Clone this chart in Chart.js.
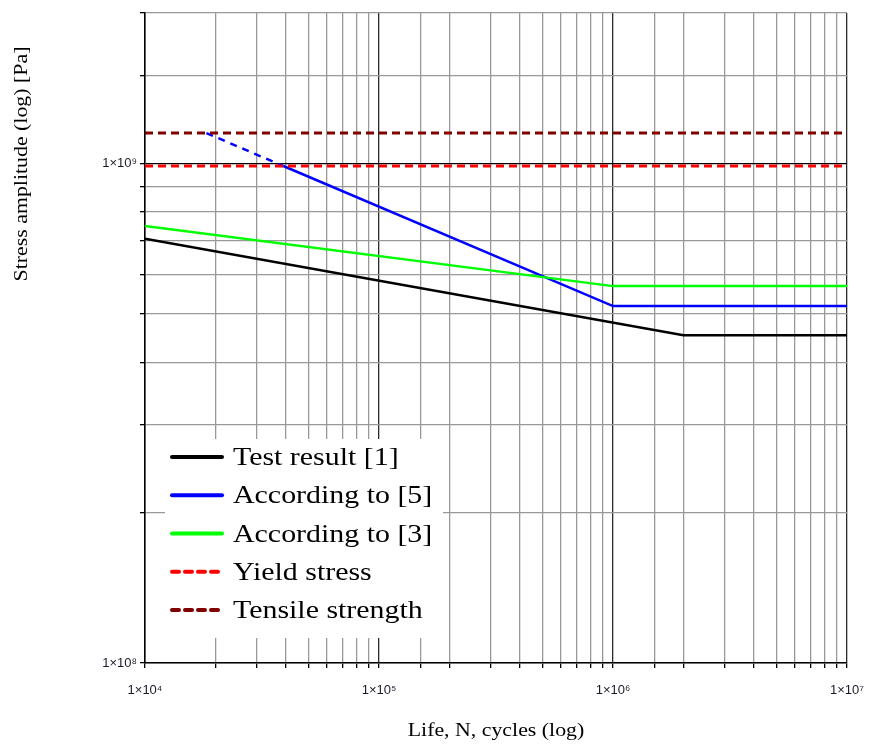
<!DOCTYPE html>
<html>
<head>
<meta charset="utf-8">
<script src="https://cdn.jsdelivr.net/npm/chart.js@4.4.1/dist/chart.umd.min.js"></script>
<style>
html,body{margin:0;padding:0;background:#fff;}
#wrap{width:870px;height:746px;position:relative;}
</style>
</head>
<body>
<div id="wrap"><canvas id="c" width="870" height="746"></canvas></div>
<script>
// ---- data ----
const seriesLabels = ['Test result [1]', 'According to [5]', 'According to [3]', 'Yield stress', 'Tensile strength'];

const testN = [1e4, 2e6, 1e7];
const testS = [7.07e8, 4.53e8, 4.53e8];

const ref5N = [3.9e4, 1e6, 1e7];
const ref5S = [9.88e8, 5.18e8, 5.18e8];
const ref5DashN = [1.83e4, 3.9e4];
const ref5DashS = [1.15e9, 9.88e8];

const ref3N = [1e4, 1e6, 1e7];
const ref3S = [7.49e8, 5.68e8, 5.68e8];

const limitN = [1e4, 1e7];
const yieldS = [9.88e8, 9.88e8];
const tensileS = [1.15e9, 1.15e9];

const xTickValues = [1e4, 1e5, 1e6, 1e7];
const xTickLabels = ['1×10⁴', '1×10⁵', '1×10⁶', '1×10⁷'];
const yTickValues = [1e8, 1e9];
const yTickLabels = ['1×10⁸', '1×10⁹'];

const xTitle = 'Life, N, cycles (log)';
const yTitle = 'Stress amplitude (log) [Pa]';

// ---- build ----
const pts = (xs, ys) => xs.map((x, i) => ({x: x, y: ys[i]}));
const colors = ['#000000', '#0000ff', '#00ff00', '#ff0000', '#800000'];
const dashed = [false, false, false, true, true];
const SERIF = '"Liberation Serif", "Times New Roman", serif';
const STRETCH = 1.15;

function labelFor(v, vals, labs) {
  for (let i = 0; i < vals.length; i++) {
    if (Math.abs(v / vals[i] - 1) < 1e-6) return labs[i];
  }
  return '';
}
function isDecade(v) {
  const l = Math.log10(v);
  return Math.abs(l - Math.round(l)) < 1e-6;
}
function stretchedText(ctx, text, x, y, align) {
  ctx.save();
  ctx.translate(x, y);
  ctx.scale(STRETCH, 1);
  ctx.textAlign = align;
  ctx.fillText(text, 0, 0);
  ctx.restore();
}

const overlay = {
  id: 'overlay',
  afterDatasetsDraw(chart) {
    const ctx = chart.ctx;
    ctx.save();
    ctx.fillStyle = '#ffffff';
    ctx.fillRect(165, 439, 278, 199);
    const rowBase = 465, rowStep = 38.25;
    for (let i = 0; i < seriesLabels.length; i++) {
      const yb = rowBase + i * rowStep;
      const ym = yb - 8;
      ctx.beginPath();
      ctx.strokeStyle = colors[i];
      ctx.lineWidth = 4;
      ctx.lineCap = 'round';
      ctx.setLineDash(dashed[i] ? [7, 6] : []);
      ctx.moveTo(172, ym);
      ctx.lineTo(222, ym);
      ctx.stroke();
      ctx.setLineDash([]);
      ctx.fillStyle = '#000';
      ctx.font = '26px ' + SERIF;
      ctx.textBaseline = 'alphabetic';
      stretchedText(ctx, seriesLabels[i], 233, yb, 'left');
    }
    ctx.restore();
  },
  afterDraw(chart) {
    const ctx = chart.ctx;
    const a = chart.chartArea;
    ctx.save();
    ctx.fillStyle = '#000';
    ctx.font = '19px ' + SERIF;
    ctx.textBaseline = 'middle';
    stretchedText(ctx, xTitle, (a.left + a.right) / 2, 731, 'center');
    ctx.translate(22, 164);
    ctx.rotate(-Math.PI / 2);
    stretchedText(ctx, yTitle, 0, 0, 'center');
    ctx.restore();
  }
};

const ds = (label, data, color, width, dash) => ({
  label: label, data: data, borderColor: color, backgroundColor: color,
  borderWidth: width, borderDash: dash, pointRadius: 0, pointHoverRadius: 0,
  fill: false, tension: 0, showLine: true
});

new Chart(document.getElementById('c'), {
  type: 'line',
  data: {
    datasets: [
      ds(seriesLabels[4], pts(limitN, tensileS), colors[4], 3, [8, 5]),
      ds(seriesLabels[3], pts(limitN, yieldS), colors[3], 3, [8, 5]),
      ds(seriesLabels[2], pts(ref3N, ref3S), colors[2], 2.5, []),
      ds(seriesLabels[1], pts(ref5N, ref5S), colors[1], 2.5, []),
      ds(seriesLabels[1] + ' (extrapolated)', pts(ref5DashN, ref5DashS), colors[1], 2.5, [7, 6]),
      ds(seriesLabels[0], pts(testN, testS), colors[0], 2.5, [])
    ]
  },
  options: {
    responsive: false,
    animation: false,
    devicePixelRatio: 1,
    layout: {padding: {left: 0, right: 23, top: 13, bottom: 0}},
    plugins: {legend: {display: false}, tooltip: {enabled: false}},
    scales: {
      x: {
        type: 'logarithmic', min: 1e4, max: 1e7,
        afterFit: s => { s.height = 83; s.paddingLeft = 0; s.paddingRight = 0; },
        border: {color: '#000', width: 1.5},
        grid: {
          color: c => (c.tick && isDecade(c.tick.value)) ? '#2a2a2a' : '#999999',
          lineWidth: 1.3, tickLength: 5, tickColor: '#000', drawTicks: true
        },
        ticks: {
          autoSkip: false, maxRotation: 0, padding: 15, color: '#1a1a2a',
          font: {family: '"Liberation Sans", Arial, sans-serif', size: 13},
          callback: v => labelFor(v, xTickValues, xTickLabels)
        }
      },
      y: {
        type: 'logarithmic', min: 1e8, max: 2e9,
        afterFit: s => { s.width = 145; s.paddingTop = 0; s.paddingBottom = 0; },
        border: {color: '#000', width: 1.5},
        grid: {
          color: c => (c.tick && isDecade(c.tick.value) && c.tick.value > 1e8) ? '#000' : '#999999',
          lineWidth: 1.3, tickLength: 5, tickColor: '#000', drawTicks: true
        },
        ticks: {
          autoSkip: false, padding: 3, color: '#1a1a2a',
          font: {family: '"Liberation Sans", Arial, sans-serif', size: 13},
          callback: v => labelFor(v, yTickValues, yTickLabels)
        }
      }
    }
  },
  plugins: [overlay]
});
</script>
</body>
</html>
